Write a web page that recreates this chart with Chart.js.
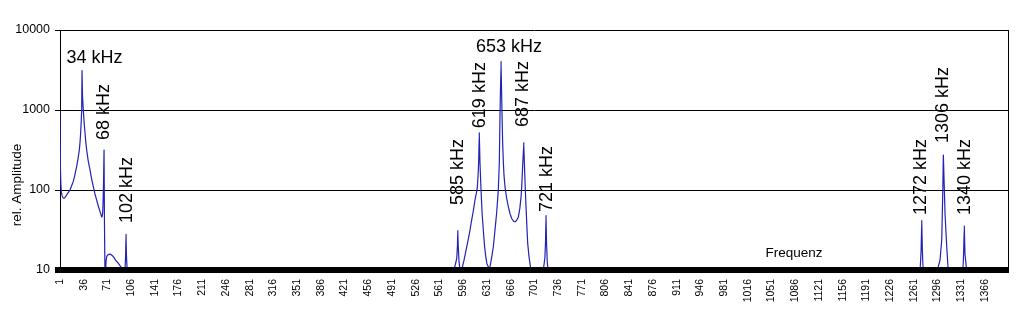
<!DOCTYPE html>
<html>
<head>
<meta charset="utf-8">
<script src="https://cdn.jsdelivr.net/npm/chart.js@4/dist/chart.umd.min.js"></script>
<style>
  html, body { margin: 0; padding: 0; background: #fff; }
  #wrap { width: 1024px; height: 320px; }
</style>
</head>
<body>
<div id="wrap"><canvas id="spektrum"></canvas></div>
<script>
const FREQ = [
  1, 1.3, 1.7, 2.3, 3, 4, 5.5, 7, 9, 12, 15.8, 18, 20.6, 23, 25.6, 27.7, 29.5, 30.6, 31.5, 32.3,
  33, 33.5, 34.2, 35.4, 36.6, 37.9, 39, 40.4, 42.7, 45.3, 47.5, 50.2, 52.5, 55.1, 57.5,
  60, 62.5, 63.3, 64, 64.5, 64.9, 65.3, 65.6, 66, 66.6, 67.3,
  68.4, 69, 69.9, 72, 74.8, 77, 79.7, 83, 87.1, 90, 92, 94.4,
  96.9, 97.8, 98.4, 99.1, 100.3,
  582.5, 586.5, 587.5, 588, 588.7, 589.8, 591.3,
  593.8, 597, 601.2, 605, 608.5, 611, 613.4, 615.3, 616.8, 617.9, 618.8, 619.7,
  620.8, 621.8, 622.8, 624, 625.7, 627.5, 629.3, 631, 633, 634.5,
  637.5, 640.5, 643, 645.4, 647, 647.8, 648.6, 649.3, 650.4, 651.8,
  653.3, 654.2, 655.3, 656.3, 657.7, 660, 662.6, 665, 667.6, 670, 672.5,
  675, 677.4, 679.5, 681.4, 682.5, 683.3, 685.3,
  686.8, 687.7, 688.7, 690, 691.2, 693, 694.6, 696,
  714.2, 716.5, 717.5, 718.2, 719, 720, 721.2,
  1270.2, 1271.8, 1272.7, 1273.6, 1275.1,
  1295.7, 1299.7, 1302.2, 1303.7, 1304.6, 1305.8, 1307.1, 1309.6, 1312,
  1333.1, 1334.5, 1335.5, 1336.5, 1339,
  1400
];
const AMP = [
  1000, 400, 180, 115, 95, 85, 80, 79, 82, 90, 100, 112, 128, 155, 196, 250, 316, 400, 520, 720,
  1000, 3100, 1500, 1000, 700, 520, 400, 316, 230, 178, 140, 110, 90, 75, 63,
  54, 46, 47, 52, 65, 91, 130, 196, 316, 40, 10,
  10, 13, 14.7, 15.5, 15.8, 15.4, 14.7, 13.3, 12.1, 11.2, 10.6, 10,
  10, 15, 28, 15, 10,
  10, 14, 20, 31, 20, 13, 10,
  10, 13, 19.5, 28, 42, 55, 75, 90, 106, 150, 218, 519,
  218, 130, 82, 50, 31.6, 20, 14.7, 12, 11, 10,
  13.5, 19.5, 32, 52, 80, 100, 150, 218, 915, 4030,
  915, 400, 218, 150, 110, 80, 62, 51, 44, 41, 40,
  42, 46, 58, 82, 115, 163, 390,
  163, 100, 62, 35, 21.5, 15, 12, 10,
  10, 14, 22, 48, 22, 13, 10,
  10, 18, 41.5, 18, 10,
  10, 13.3, 23.7, 91, 274, 120, 50, 19.5, 10,
  10, 16, 35.5, 16, 10,
  10
];

// Achsenbeschriftung
const X_TICKS = [1, 36, 71, 106, 141, 176, 211, 246, 281, 316, 351, 386, 421, 456, 491, 526, 561, 596,
  631, 666, 701, 736, 771, 806, 841, 876, 911, 946, 981, 1016, 1051, 1086, 1121, 1156, 1191, 1226,
  1261, 1296, 1331, 1366];
const Y_TICKS = [10, 100, 1000, 10000];

// Peak-Beschriftungen: Text, Lage (Frequenzindex), Amplitude am Textanfang, gedreht?
const PEAK_TEXT = ["34 kHz", "68 kHz", "102 kHz", "585 kHz", "619 kHz", "653 kHz", "687 kHz", "721 kHz",
  "1272 kHz", "1306 kHz", "1340 kHz"];
const PEAK_X   = [51.9, 65.9, 99.4, 588.4, 620.9, 663.6, 684.3, 719.3, 1271.7, 1304.1, 1336.6];
const PEAK_AMP = [3885, 422, 38.7, 65, 593, 5338, 611, 53, 48.7, 386, 48.7];
const PEAK_ROT = [false, true, true, true, true, false, true, true, true, true, true];

const FONT = "'Liberation Sans', Arial, sans-serif";

const beschriftung = {
  id: "beschriftung",
  afterDatasetsDraw(chart) {
    const { ctx, chartArea: a, scales: { x, y } } = chart;
    ctx.save();
    // Rahmen rechts + dicke Grundlinie
    ctx.strokeStyle = "#000";
    ctx.lineWidth = 1;
    ctx.beginPath();
    ctx.moveTo(a.right + 0.5, a.top);
    ctx.lineTo(a.right + 0.5, a.bottom);
    ctx.stroke();
    ctx.fillStyle = "#000";
    ctx.fillRect(a.left - 5, a.bottom - 3, a.right - a.left + 6, 6);

    ctx.font = "18px " + FONT;
    PEAK_TEXT.forEach((t, i) => {
      const px = x.getPixelForValue(PEAK_X[i]);
      const py = y.getPixelForValue(PEAK_AMP[i]);
      if (PEAK_ROT[i]) {
        ctx.save();
        ctx.translate(px, py);
        ctx.rotate(-Math.PI / 2);
        ctx.textAlign = "left";
        ctx.textBaseline = "middle";
        ctx.fillText(t, 0, 0);
        ctx.restore();
      } else {
        ctx.textAlign = "center";
        ctx.textBaseline = "alphabetic";
        ctx.fillText(t, px, py);
      }
    });

    // Achsentitel
    ctx.font = "13.5px " + FONT;
    ctx.textAlign = "center";
    ctx.textBaseline = "alphabetic";
    ctx.fillText("Frequenz", a.right - 214, a.bottom - 13);
    ctx.save();
    ctx.translate(17, a.top + 155);
    ctx.rotate(-Math.PI / 2);
    ctx.textBaseline = "middle";
    ctx.fillText("rel. Amplitude", 0, 0);
    ctx.restore();
    ctx.restore();
  }
};

new Chart(document.getElementById("spektrum"), {
  type: "line",
  data: {
    datasets: [{
      data: FREQ.map((f, i) => ({ x: f, y: AMP[i] })),
      borderColor: "#2222b4",
      borderWidth: 1.2,
      pointRadius: 0,
      fill: false,
      tension: 0.01   // > 0, damit Chart.js nicht den pixelweisen Schnellpfad nimmt
    }]
  },
  options: {
    responsive: true,
    maintainAspectRatio: false,
    animation: false,
    layout: { padding: { top: 30, right: 16, bottom: 0, left: 0 } },
    plugins: {
      legend: { display: false },
      tooltip: { enabled: false }
    },
    scales: {
      x: {
        type: "linear",
        min: 1,
        max: 1400,
        afterBuildTicks: (s) => { s.ticks = X_TICKS.map(v => ({ value: v })); },
        afterFit: (s) => { s.height = 50; },
        grid: { display: false, drawTicks: false },
        border: { display: false },
        ticks: {
          autoSkip: false,
          minRotation: 90,
          maxRotation: 90,
          padding: 9,
          color: "#000",
          font: { family: FONT, size: 10.5 },
          callback: (v) => String(v)
        }
      },
      y: {
        type: "logarithmic",
        min: 10,
        max: 10000,
        afterBuildTicks: (s) => { s.ticks = Y_TICKS.map(v => ({ value: v })); },
        afterFit: (s) => { s.width = 60; },
        grid: { color: "#000", lineWidth: 1, drawTicks: true, tickLength: 5 },
        border: { display: true, color: "#000", width: 1 },
        ticks: {
          padding: 5,
          color: "#000",
          font: { family: FONT, size: 12.5 },
          callback: (v) => String(v)
        }
      }
    }
  },
  plugins: [beschriftung]
});
</script>
</body>
</html>
